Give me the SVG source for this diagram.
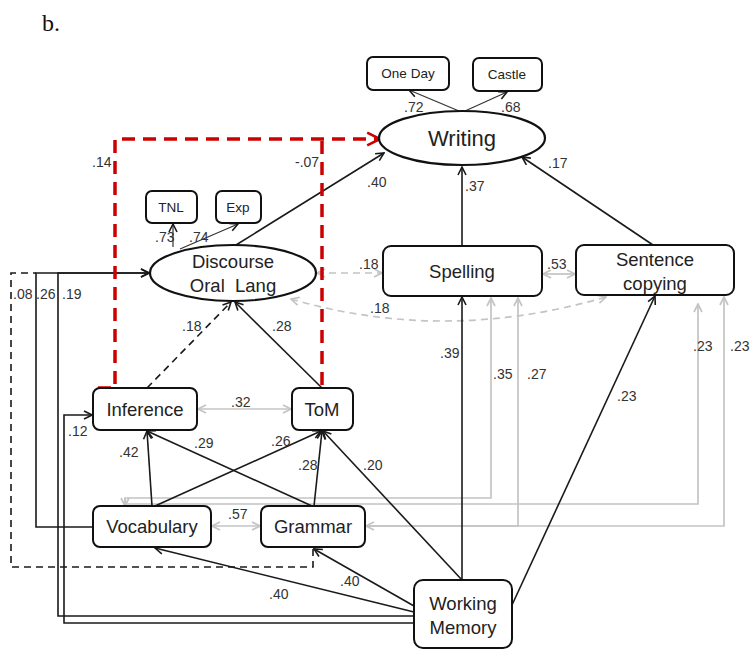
<svg xmlns="http://www.w3.org/2000/svg" width="752" height="651" viewBox="0 0 752 651">
<style>
.box{fill:#fff;stroke:#111;stroke-width:2}
.ell{fill:#fff;stroke:#111;stroke-width:2.2}
.nt{font-family:"Liberation Sans",Arial,sans-serif;font-size:18.5px;fill:#222;text-anchor:middle}
.st{font-family:"Liberation Sans",Arial,sans-serif;font-size:13.5px;fill:#222;text-anchor:middle}
.lb{font-family:"Liberation Sans",Arial,sans-serif;font-size:14px;fill:#333}
.k{fill:none;stroke:#1a1a1a;stroke-width:1.6}
.kt{fill:none;stroke:#333;stroke-width:1.2}
.kd{fill:none;stroke:#1a1a1a;stroke-width:1.6;stroke-dasharray:7 5}
.g{fill:none;stroke:#c4c4c4;stroke-width:1.7}
.gd{fill:none;stroke:#c4c4c4;stroke-width:1.7;stroke-dasharray:7 5}
.r{fill:none;stroke:#cc0000;stroke-width:3.5;stroke-dasharray:13 8}
</style>
<defs>
<marker id="ak" viewBox="0 0 10 10" refX="9" refY="5" markerWidth="10" markerHeight="10" markerUnits="userSpaceOnUse" orient="auto-start-reverse"><path d="M1,1 L9,5 L1,9" fill="none" stroke="#1a1a1a" stroke-width="1.6"/></marker>
<marker id="ag" viewBox="0 0 10 10" refX="9" refY="5" markerWidth="10" markerHeight="10" markerUnits="userSpaceOnUse" orient="auto-start-reverse"><path d="M1,1 L9,5 L1,9" fill="none" stroke="#c4c4c4" stroke-width="1.7"/></marker>
<marker id="ar" viewBox="0 0 10 10" refX="9" refY="5" markerWidth="16" markerHeight="16" markerUnits="userSpaceOnUse" orient="auto"><path d="M1,1 L9,5 L1,9" fill="none" stroke="#cc0000" stroke-width="1.6"/></marker>
</defs>
<rect width="752" height="651" fill="#fff"/>
<text x="42" y="31" font-family="Liberation Serif, serif" font-size="24" fill="#111">b.</text>

<g id="connectors">
<path class="g" d="M125,506 V498 H491 V298" marker-start="url(#ag)" marker-end="url(#ag)"/>
<path class="g" d="M125,498 V504 H698 V304" marker-end="url(#ag)"/>
<path class="g" d="M366,526 H518 V298" marker-start="url(#ag)" marker-end="url(#ag)"/>
<path class="g" d="M366,526 H724 V297" marker-end="url(#ag)"/>
<path class="g" d="M198,409 H291" marker-start="url(#ag)" marker-end="url(#ag)"/>
<path class="g" d="M212,526 H260" marker-start="url(#ag)" marker-end="url(#ag)"/>
<path class="g" d="M543,274 H575" marker-start="url(#ag)" marker-end="url(#ag)"/>
<path class="gd" d="M317,273 H382" marker-start="url(#ag)" marker-end="url(#ag)"/>
<path class="gd" d="M291,299 Q445,344 606,297" marker-start="url(#ag)" marker-end="url(#ag)"/>
<path class="k" d="M236,245 L384,153" marker-end="url(#ak)"/>
<path class="k" d="M462,246 V167" marker-end="url(#ak)"/>
<path class="k" d="M653,245 L522,157" marker-end="url(#ak)"/>
<path class="kt" d="M459,111 L409,90" marker-end="url(#ak)"/>
<path class="kt" d="M465,111 L507,92" marker-end="url(#ak)"/>
<path class="kt" d="M173,247 V224" marker-end="url(#ak)"/>
<path class="kt" d="M180,249 L238,224" marker-end="url(#ak)"/>
<path class="k" d="M322,388 L235,302" marker-end="url(#ak)"/>
<path class="kd" d="M147,388 L231,302" marker-end="url(#ak)"/>
<path class="k" d="M152,506 L147,431" marker-end="url(#ak)"/>
<path class="k" d="M312,506 L147,431" marker-end="url(#ak)"/>
<path class="k" d="M155,506 L321,431" marker-end="url(#ak)"/>
<path class="k" d="M314,506 L322,431" marker-end="url(#ak)"/>
<path class="k" d="M462,580 L323,431" marker-end="url(#ak)"/>
<path class="k" d="M462,580 V297" marker-end="url(#ak)"/>
<path class="k" d="M512,605 L655,296" marker-end="url(#ak)"/>
<path class="k" d="M414,612 L155,548" marker-end="url(#ak)"/>
<path class="k" d="M414,606 L314,549" marker-end="url(#ak)"/>
<path class="k" d="M93,527 H36 V273 H149" marker-end="url(#ak)"/>
<path class="k" d="M414,616 H58 V273 H149" marker-end="url(#ak)"/>
<path class="k" d="M414,623 H64 V415 H92" marker-end="url(#ak)"/>
<path class="kd" d="M313,549 V567 H11 V273 H36"/>
<path class="r" d="M98,388 H115 V139 H380" marker-end="url(#ar)"/>
<path class="r" d="M322,141 V388"/>
</g>

<g id="labels">
<text class="lb" x="404" y="112">.72</text>
<text class="lb" x="501" y="112">.68</text>
<text class="lb" x="92" y="167">.14</text>
<text class="lb" x="295" y="167">-.07</text>
<text class="lb" x="367" y="187">.40</text>
<text class="lb" x="465" y="191">.37</text>
<text class="lb" x="548" y="168">.17</text>
<text class="lb" x="155" y="242">.73</text>
<text class="lb" x="189" y="242">.74</text>
<text class="lb" x="359" y="269">.18</text>
<text class="lb" x="370" y="313">.18</text>
<text class="lb" x="547" y="269">.53</text>
<text class="lb" x="13" y="299">.08</text>
<text class="lb" x="36" y="299">.26</text>
<text class="lb" x="62" y="299">.19</text>
<text class="lb" x="182" y="331">.18</text>
<text class="lb" x="272" y="331">.28</text>
<text class="lb" x="231" y="407">.32</text>
<text class="lb" x="68" y="436">.12</text>
<text class="lb" x="119" y="457">.42</text>
<text class="lb" x="194" y="448">.29</text>
<text class="lb" x="271" y="446">.26</text>
<text class="lb" x="298" y="470">.28</text>
<text class="lb" x="363" y="470">.20</text>
<text class="lb" x="228" y="519">.57</text>
<text class="lb" x="269" y="599">.40</text>
<text class="lb" x="340" y="586">.40</text>
<text class="lb" x="440" y="358">.39</text>
<text class="lb" x="493" y="379">.35</text>
<text class="lb" x="527" y="379">.27</text>
<text class="lb" x="617" y="401">.23</text>
<text class="lb" x="693" y="351">.23</text>
<text class="lb" x="730" y="351">.23</text>
</g>

<g id="writing"><ellipse class="ell" cx="462" cy="138" rx="83" ry="27"/><text class="nt" x="462" y="146" style="font-size:22px">Writing</text></g>
<g id="oneday"><rect class="box" x="367" y="57" width="82" height="33" rx="6"/><text class="st" x="408" y="78">One Day</text></g>
<g id="castle"><rect class="box" x="473" y="58" width="69" height="33" rx="6"/><text class="st" x="507" y="79">Castle</text></g>
<g id="tnl"><rect class="box" x="146" y="191" width="51" height="32" rx="6"/><text class="st" x="171" y="212">TNL</text></g>
<g id="exp"><rect class="box" x="216" y="191" width="45" height="32" rx="6"/><text class="st" x="238" y="212">Exp</text></g>
<g id="discourse"><ellipse class="ell" cx="233" cy="273" rx="83" ry="28"/><text class="nt" x="233" y="268">Discourse</text><text class="nt" x="233" y="292" xml:space="preserve">Oral  Lang</text></g>
<g id="spelling"><rect class="box" x="383" y="246" width="159" height="50" rx="8"/><text class="nt" x="462" y="278">Spelling</text></g>
<g id="sentence"><rect class="box" x="576" y="245" width="158" height="50" rx="8"/><text class="nt" x="655" y="266">Sentence</text><text class="nt" x="655" y="290">copying</text></g>
<g id="inference"><rect class="box" x="93" y="388" width="104" height="42" rx="7"/><text class="nt" x="145" y="416">Inference</text></g>
<g id="tom"><rect class="box" x="292" y="388" width="61" height="42" rx="7"/><text class="nt" x="322" y="416">ToM</text></g>
<g id="vocabulary"><rect class="box" x="93" y="506" width="118" height="41" rx="7"/><text class="nt" x="152" y="533">Vocabulary</text></g>
<g id="grammar"><rect class="box" x="261" y="506" width="104" height="41" rx="7"/><text class="nt" x="313" y="533">Grammar</text></g>
<g id="wm"><rect class="box" x="414" y="580" width="98" height="68" rx="9"/><text class="nt" x="463" y="610">Working</text><text class="nt" x="463" y="634">Memory</text></g>
</svg>
